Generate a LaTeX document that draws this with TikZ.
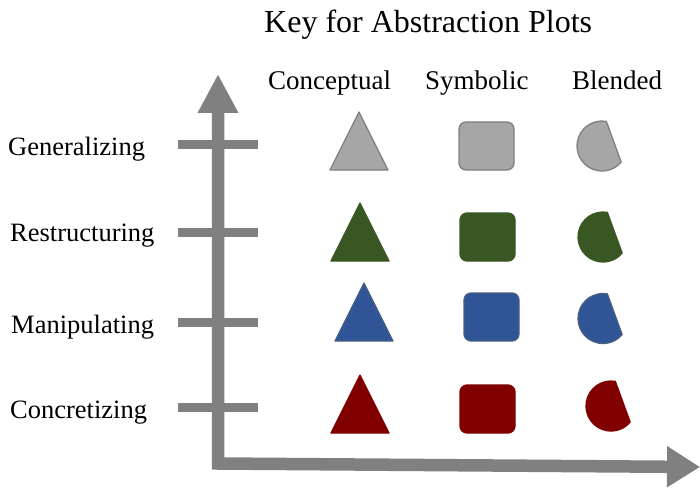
\documentclass[tikz,border=0pt]{standalone}
\usepackage{fontspec}
\setmainfont{Liberation Serif}
\usetikzlibrary{arrows.meta}

\definecolor{axisgray}{HTML}{808080}
\definecolor{gfill}{HTML}{A6A6A6}
\definecolor{gline}{HTML}{7F7F7F}
\definecolor{grfill}{HTML}{385723}
\definecolor{blfill}{HTML}{2F5597}
\definecolor{blline}{HTML}{4A5F82}
\definecolor{rdfill}{HTML}{800000}

\tikzset{
  lbl/.style={inner sep=0pt, anchor=base west, font=\fontsize{26.5}{30}\selectfont},
  head/.style={inner sep=0pt, anchor=base west, font=\fontsize{27}{30}\selectfont},
  ttl/.style={inner sep=0pt, anchor=base west, font=\fontsize{32}{36}\selectfont},
  tick/.style={draw=axisgray, line width=9pt},
  axis/.style={draw=axisgray, line width=12.5pt, line join=miter,
    {Triangle[length=39pt,width=38pt]}-{Triangle[length=33pt,width=39pt]}},
  shp/.style={line width=1.3pt, line join=round},
  % triangle: apex at the given point, 58 wide, 58 tall
  pics/tri/.style={code={\path[shp,#1] (0,0) -- (29,58) -- (-29,58) -- cycle;}},
  % rounded square: top left corner at the given point
  pics/sq/.style={code={\path[shp,#1,rounded corners=7pt] (0,0) rectangle (55,48);}},
  % blended: circle cut by a chord, centred on the given point
  pics/blend/.style={code={\path[shp,#1] (80:25pt) arc[start angle=80, end angle=320, radius=25pt] -- cycle;}},
}

\begin{document}
\begin{tikzpicture}[x=1pt, y=-1pt]
\useasboundingbox (0,0) rectangle (700,489);

% titles
\node[ttl] (title) at (264,33) {Key for Abstraction Plots};
\node[head] (hconc) at (268,90) {Conceptual};
\node[head] (hsym) at (425,90) {Symbolic};
\node[head] (hblend) at (572,90) {Blended};

% row labels
\node[lbl] (lgen) at (8,156) {Generalizing};
\node[lbl] (lres) at (10,241) {Restructuring};
\node[lbl] (lman) at (11,333) {Manipulating};
\node[lbl] (lcon) at (10,418) {Concretizing};

% ticks
\coordinate (tg1) at (178,144.5); \coordinate (tg2) at (258,144.5);
\coordinate (tr1) at (178,232.5); \coordinate (tr2) at (258,232.5);
\coordinate (tm1) at (178,322);   \coordinate (tm2) at (258,322);
\coordinate (tc1) at (178,407.5); \coordinate (tc2) at (258,407.5);
\draw[tick] (tg1) -- (tg2);
\draw[tick] (tr1) -- (tr2);
\draw[tick] (tm1) -- (tm2);
\draw[tick] (tc1) -- (tc2);

% axes
\coordinate (ytip) at (218,74);
\coordinate (corner) at (218,463.5);
\coordinate (xtip) at (700,467);
\draw[axis] (ytip) -- (corner) -- (xtip);

% generalizing row
\pic at (359,112) {tri={fill=gfill, draw=gline}};
\pic at (459,122) {sq={fill=gfill, draw=gline}};
\pic at (602,146) {blend={fill=gfill, draw=gline}};

% restructuring row
\pic at (360,203) {tri={fill=grfill, draw=grfill}};
\pic at (460,213) {sq={fill=grfill, draw=grfill}};
\pic at (603,237) {blend={fill=grfill, draw=grfill}};

% manipulating row
\pic at (364,283) {tri={fill=blfill, draw=blline}};
\pic at (464,293) {sq={fill=blfill, draw=blline}};
\pic at (603,318.5) {blend={fill=blfill, draw=blline}};

% concretizing row
\pic at (360,375) {tri={fill=rdfill, draw=rdfill}};
\pic at (460,385) {sq={fill=rdfill, draw=rdfill}};
\pic at (611,406) {blend={fill=rdfill, draw=rdfill}};
\end{tikzpicture}
\end{document}
